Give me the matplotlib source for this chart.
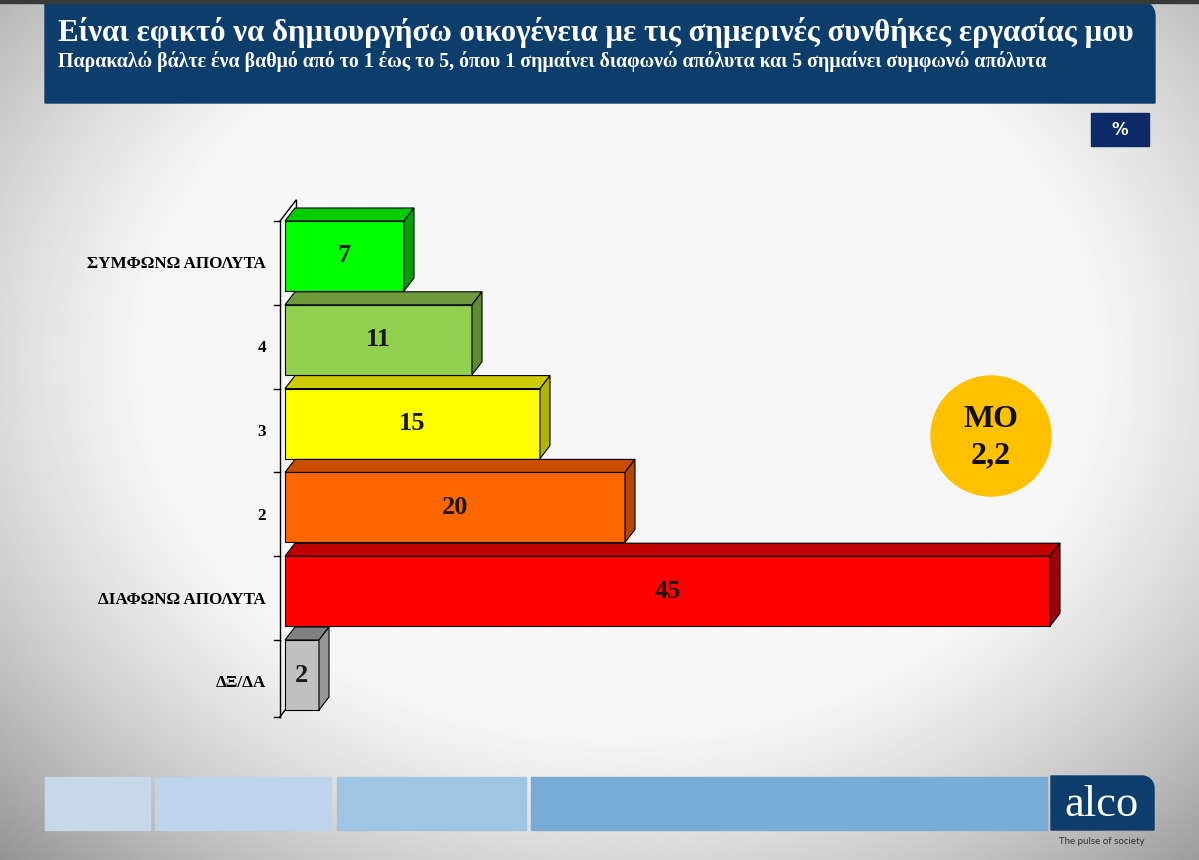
import numpy as np
import matplotlib
matplotlib.use("Agg")
import matplotlib.pyplot as plt
from matplotlib.patches import Rectangle, Polygon, Circle

# data
categories = ["ΔΞ/ΔΑ", "ΔΙΑΦΩΝΩ ΑΠΟΛΥΤΑ", "2", "3", "4", "ΣΥΜΦΩΝΩ ΑΠΟΛΥΤΑ"]
values = [2, 45, 20, 15, 11, 7]
front_colors = ["#c0c0c0", "#ff0000", "#ff6600", "#ffff00", "#92d050", "#00ff00"]
top_colors = ["#808080", "#c00000", "#cc4c00", "#cccc00", "#6f9a3c", "#00cc00"]
side_colors = ["#969696", "#a00000", "#b34700", "#b3b300", "#5e8a30", "#00a000"]
mean_label = "ΜΟ\n2,2"
title = "Είναι εφικτό να δημιουργήσω οικογένεια με τις σημερινές συνθήκες εργασίας μου"
subtitle = ("Παρακαλώ βάλτε ένα βαθμό από το 1 έως το 5, όπου 1 σημαίνει "
            "διαφωνώ απόλυτα και 5 σημαίνει συμφωνώ απόλυτα")

W, H = 1199, 860
fig = plt.figure(figsize=(W / 100, H / 100), dpi=100)

# background with soft gradient, grey only towards the edges
bg = fig.add_axes([0, 0, 1, 1])
bg.set_xlim(0, W)
bg.set_ylim(H, 0)
bg.axis("off")
gx, gy = np.meshgrid(np.linspace(0, W, 600), np.linspace(0, H, 430))
d2 = ((gx - 620) / 760) ** 2 + ((gy - 360) / 600) ** 2
shade = np.clip(0.965 - 0.4 * np.clip(d2 - 0.4, 0, None), 0, 1)
bg.imshow(shade, cmap="gray", vmin=0, vmax=1, extent=[0, W, H, 0], aspect="auto",
          interpolation="bilinear", zorder=0)

serif = "Liberation Serif"
navy = "#0d3d6b"

# header with rounded top-right corner
r = 16
arc = np.linspace(np.pi / 2, 0, 12)
hx = [45, 1155 - r] + list(1155 - r + r * np.cos(arc)) + [1155, 45]
hy = [0, 0] + list(r - r * np.sin(arc)) + [103, 103]
bg.add_patch(Polygon(np.column_stack([hx, hy]), closed=True, color=navy, zorder=2))
bg.add_patch(Rectangle((0, 0), W, 3, color="#3a3a3a", zorder=3))
bg.text(58, 32, title, family=serif, weight="bold", size=22.2, color="white", va="center", zorder=4)
bg.text(58, 61, subtitle, family=serif, weight="bold", size=14.3, color="white", va="center", zorder=4)

# percent box
bg.add_patch(Rectangle((1091, 113), 58, 33, color="#0b2a66", zorder=2))
bg.text(1120, 130, "%", family="DejaVu Sans", weight="bold", size=12, color="white",
        ha="center", va="center", zorder=3)

# footer strips
for x0, x1, c in [(45, 150, "#c6d9e8"), (155, 331, "#bdd4ea"), (337, 526, "#a0c5e2"), (531, 1047, "#78acd5")]:
    bg.add_patch(Rectangle((x0, 777), x1 - x0, 53, color=c, zorder=2))
lx = [1051, 1154 - 12] + list(1154 - 12 + 12 * np.cos(arc)) + [1154, 1051]
ly = [776, 776] + list(776 + 12 - 12 * np.sin(arc)) + [830, 830]
bg.add_patch(Polygon(np.column_stack([lx, ly]), closed=True, color=navy, zorder=2))
bg.text(1102, 805, "alco", family=serif, size=32, color="white", ha="center", va="center", zorder=3)
bg.text(1102, 841, "The pulse of society", family="Lato", size=7, color="#333333",
        ha="center", va="center", zorder=3)

# mean circle
bg.add_patch(Circle((991, 436), 60, color="#ffc000", zorder=2))
bg.text(991, 438, mean_label, family=serif, weight="bold", size=23, color="#111111",
        ha="center", va="center", linespacing=1.35, zorder=3)

# chart axes: 17 px per percent, 83.8 px per category
px_x, px_y = 17.0, 83.8
left_px, right_px, top_px, bot_px = 270, 1100, 180, 730
ax = fig.add_axes([left_px / W, 1 - bot_px / H, (right_px - left_px) / W, (bot_px - top_px) / H])
ax.set_xlim((left_px - 285) / px_x, (right_px - 285) / px_x)
ax.set_ylim((675 - bot_px) / px_y, (675 - top_px) / px_y)
ax.patch.set_alpha(0)
for s in ax.spines.values():
    s.set_visible(False)
ax.set_xticks([])
ax.set_yticks([])

h = 70 / px_y
dx, dy = 10 / px_x, 13 / px_y
ypos = np.arange(len(categories))

# axis walls
x_ax = -5 / px_x
y_lo, y_hi = -h / 2 - 0.08, len(categories) - 1 + h / 2
ax.plot([x_ax, x_ax], [y_lo, y_hi], color="black", lw=1, zorder=1)
ax.plot([x_ax + dx * 1.6, x_ax + dx * 1.6], [y_lo + dy * 1.6, y_hi + dy * 1.6], color="black", lw=1, zorder=1)
ax.plot([x_ax, x_ax + dx * 1.6], [y_hi, y_hi + dy * 1.6], color="black", lw=1, zorder=1)
ax.plot([x_ax, x_ax + dx * 1.6], [y_lo, y_lo + dy * 1.6], color="black", lw=1, zorder=1)
for t in list(ypos + h / 2) + [y_lo]:
    ax.plot([x_ax - 6 / px_x, x_ax], [t, t], color="black", lw=1, zorder=1)

for i in range(len(categories) - 1, -1, -1):
    v = values[i]
    y0, y1 = ypos[i] - h / 2, ypos[i] + h / 2
    ax.add_patch(Rectangle((0, y0), v, h, facecolor=front_colors[i], edgecolor="black", lw=0.8, zorder=3))
    ax.add_patch(Polygon([(0, y1), (dx, y1 + dy), (v + dx, y1 + dy), (v, y1)], closed=True,
                         facecolor=top_colors[i], edgecolor="black", lw=0.8, zorder=3))
    ax.add_patch(Polygon([(v, y0), (v + dx, y0 + dy), (v + dx, y1 + dy), (v, y1)], closed=True,
                         facecolor=side_colors[i], edgecolor="black", lw=0.8, zorder=3))
    ax.text(v / 2, ypos[i], str(v), family=serif, weight="bold", size=19, color="#1a1a1a",
            ha="center", va="center", zorder=4)
    ax.text(x_ax - 14 / px_x, ypos[i] - 0.1, categories[i], family=serif, weight="bold", size=12.3,
            color="black", ha="right", va="center", zorder=4)

fig.savefig("out.png", dpi=100)
